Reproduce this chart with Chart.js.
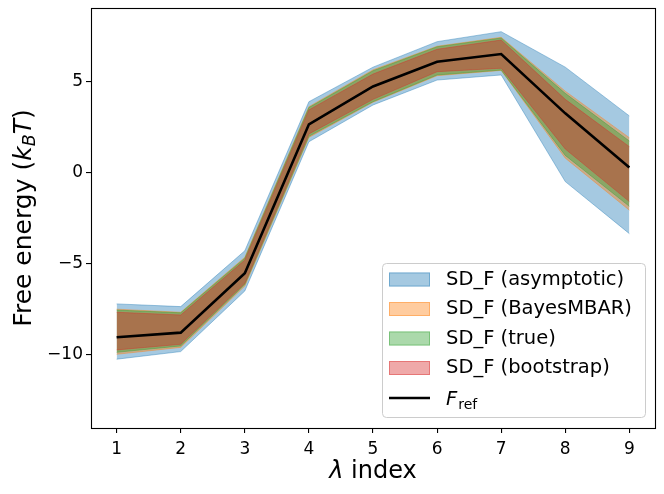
<!DOCTYPE html>
<html>
<head>
<meta charset="utf-8">
<script src="https://cdn.jsdelivr.net/npm/chart.js@4.4.0/dist/chart.umd.min.js"></script>
<style>
  html, body { margin: 0; padding: 0; background: #fff; }
  canvas { display: block; }
</style>
</head>
<body>
<canvas id="chart" width="664" height="494"></canvas>
<script>
// lambda states
const lambdaIndex = [1, 2, 3, 4, 5, 6, 7, 8, 9];

// reference free energy
const fRef = [-9.04, -8.79, -5.53, 2.66, 4.74, 6.10, 6.52, 3.26, 0.29];

// SD bands (upper / lower edge)
const asymUpper = [-7.21, -7.36, -4.29, 3.90, 5.80, 7.20, 7.75, 5.80, 3.12];
const asymLower = [-10.25, -9.83, -6.50, 1.70, 3.72, 5.09, 5.37, -0.49, -3.35];
const bayesUpper = [-7.50, -7.67, -4.65, 3.63, 5.65, 6.95, 7.44, 4.48, 1.92];
const bayesLower = [-9.98, -9.60, -6.23, 1.94, 3.87, 5.33, 5.62, 0.80, -2.06];
const trueUpper = [-7.55, -7.70, -4.70, 3.58, 5.60, 6.92, 7.40, 4.36, 1.74];
const trueLower = [-9.87, -9.52, -6.15, 2.00, 3.90, 5.37, 5.64, 0.95, -1.85];
const bootUpper = [-7.67, -7.82, -4.80, 3.45, 5.42, 6.78, 7.29, 4.03, 1.43];
const bootLower = [-9.74, -9.43, -6.08, 2.13, 4.03, 5.55, 5.74, 1.30, -1.59];

const legendLabels = ['SD_F (asymptotic)', 'SD_F (BayesMBAR)', 'SD_F (true)', 'SD_F (bootstrap)'];
const yTicks = [-10, -5, 0, 5];
const xTicks = [1, 2, 3, 4, 5, 6, 7, 8, 9];

const bandColors = ['31,119,180', '255,127,14', '44,160,44', '214,39,40'];
const FONT = '"DejaVu Sans", sans-serif';

const toPoints = arr => arr.map((y, i) => ({x: lambdaIndex[i], y: y}));

// Build a filled band: upper edge fills down to the lower edge (+1)
function band(label, upper, lower, rgb, order) {
    const col = 'rgba(' + rgb + ',0.4)';
    return [{
        label: label,
        data: toPoints(upper),
        fill: '+1',
        backgroundColor: col,
        borderColor: col,
        borderWidth: 1,
        pointRadius: 0,
        tension: 0,
        order: order
    }, {
        label: label + ' lower',
        data: toPoints(lower),
        fill: false,
        borderColor: col,
        borderWidth: 1,
        pointRadius: 0,
        tension: 0,
        order: order
    }];
}

const datasets = [
    {
        label: 'F_ref',
        data: toPoints(fRef),
        borderColor: '#000',
        borderWidth: 2.6,
        pointRadius: 0,
        fill: false,
        tension: 0,
        order: 0
    },
    ...band(legendLabels[3], bootUpper, bootLower, bandColors[3], 1),
    ...band(legendLabels[2], trueUpper, trueLower, bandColors[2], 2),
    ...band(legendLabels[1], bayesUpper, bayesLower, bandColors[1], 3),
    ...band(legendLabels[0], asymUpper, asymLower, bandColors[0], 4)
];

// frame, axis titles and the in-plot legend
const decorations = {
    id: 'decorations',
    afterDraw(chart) {
        const ctx = chart.ctx;
        const a = chart.chartArea;
        ctx.save();

        // axes frame
        ctx.strokeStyle = '#000';
        ctx.lineWidth = 1.1;
        ctx.strokeRect(Math.round(a.left) + 0.5, Math.round(a.top) + 0.5,
                       Math.round(a.right - a.left), Math.round(a.bottom - a.top));

        // x axis title: "λ index"
        ctx.fillStyle = '#000';
        ctx.textBaseline = 'alphabetic';
        const xPieces = [['italic 24px ' + FONT, 'λ'], ['24px ' + FONT, ' index']];
        let w = 0;
        xPieces.forEach(p => { ctx.font = p[0]; w += ctx.measureText(p[1]).width; });
        let x = (a.left + a.right) / 2 - w / 2;
        xPieces.forEach(p => { ctx.font = p[0]; ctx.fillText(p[1], x, 478); x += ctx.measureText(p[1]).width; });

        // y axis title: "Free energy (k_B T)"
        ctx.save();
        ctx.translate(31, (a.top + a.bottom) / 2);
        ctx.rotate(-Math.PI / 2);
        const yPieces = [
            ['25px ' + FONT, 'Free energy (', 0],
            ['italic 25px ' + FONT, 'k', 0],
            ['italic 17.5px ' + FONT, 'B', 4],
            ['italic 25px ' + FONT, 'T', 0],
            ['25px ' + FONT, ')', 0]
        ];
        w = 0;
        yPieces.forEach(p => { ctx.font = p[0]; w += ctx.measureText(p[1]).width; });
        x = -w / 2;
        yPieces.forEach(p => { ctx.font = p[0]; ctx.fillText(p[1], x, p[2]); x += ctx.measureText(p[1]).width; });
        ctx.restore();

        // legend
        const lx = 382, ly = 263, lw = 263, lh = 154;
        ctx.beginPath();
        ctx.roundRect(lx + 0.5, ly + 0.5, lw, lh, 4);
        ctx.fillStyle = 'rgba(255,255,255,0.8)';
        ctx.fill();
        ctx.strokeStyle = 'rgb(204,204,204)';
        ctx.lineWidth = 1;
        ctx.stroke();

        const rowY = [279.5, 309, 338.5, 368, 398];
        ctx.textBaseline = 'middle';
        legendLabels.forEach((label, i) => {
            const col = 'rgba(' + bandColors[i] + ',0.4)';
            ctx.fillStyle = col;
            ctx.fillRect(389, rowY[i] - 7, 41, 14);
            ctx.strokeStyle = col;
            ctx.lineWidth = 1;
            ctx.strokeRect(389.5, rowY[i] - 6.5, 40, 13);
            ctx.fillStyle = '#000';
            ctx.font = '19.5px ' + FONT;
            ctx.fillText(label, 446, rowY[i]);
        });
        // F_ref entry
        const ry = rowY[4];
        ctx.strokeStyle = '#000';
        ctx.lineWidth = 2.6;
        ctx.beginPath();
        ctx.moveTo(389, ry);
        ctx.lineTo(430, ry);
        ctx.stroke();
        ctx.fillStyle = '#000';
        ctx.textBaseline = 'alphabetic';
        ctx.font = 'italic 19.5px ' + FONT;
        ctx.fillText('F', 446, ry + 7);
        const fw = ctx.measureText('F').width;
        ctx.font = '14px ' + FONT;
        ctx.fillText('ref', 446 + fw + 1, ry + 11);

        ctx.restore();
    }
};

new Chart(document.getElementById('chart'), {
    type: 'line',
    data: { datasets: datasets },
    options: {
        responsive: false,
        animation: false,
        events: [],
        layout: { padding: { left: 0, right: 9, top: 8, bottom: 0 } },
        plugins: {
            legend: { display: false },
            tooltip: { enabled: false },
            filler: { propagate: false }
        },
        scales: {
            x: {
                type: 'linear',
                min: 0.6,
                max: 9.4,
                afterBuildTicks: s => { s.ticks = xTicks.map(v => ({value: v})); },
                afterFit: s => { s.height = 66; s.paddingLeft = 0; s.paddingRight = 0; },
                grid: { display: true, drawOnChartArea: false, drawTicks: true, tickLength: 5, color: '#000', lineWidth: 1.1 },
                border: { display: false },
                ticks: { color: '#000', font: { family: FONT, size: 17 }, padding: 6, maxRotation: 0 }
            },
            y: {
                type: 'linear',
                min: -14.03,
                max: 9.05,
                afterBuildTicks: s => { s.ticks = yTicks.map(v => ({value: v})); },
                afterFit: s => { s.width = 91; s.paddingTop = 0; s.paddingBottom = 0; },
                grid: { display: true, drawOnChartArea: false, drawTicks: true, tickLength: 5, color: '#000', lineWidth: 1.1 },
                border: { display: false },
                ticks: {
                    color: '#000',
                    font: { family: FONT, size: 17 },
                    padding: 3,
                    callback: v => String(v).replace('-', '\u2212')
                }
            }
        }
    },
    plugins: [decorations]
});
</script>
</body>
</html>
